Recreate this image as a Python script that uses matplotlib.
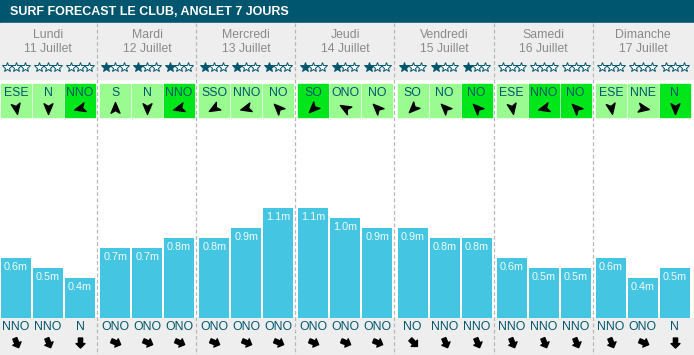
import numpy as np
import matplotlib
matplotlib.use("Agg")
import matplotlib.pyplot as plt
from matplotlib.path import Path
from matplotlib.markers import MarkerStyle
from matplotlib.transforms import Affine2D
from matplotlib.patches import Rectangle

plt.rcParams['font.family'] = ['Liberation Sans', 'DejaVu Sans']

title = "SURF FORECAST LE CLUB, ANGLET 7 JOURS"
days = ['Lundi', 'Mardi', 'Mercredi', 'Jeudi', 'Vendredi', 'Samedi', 'Dimanche']
dates = ['11 Juillet', '12 Juillet', '13 Juillet', '14 Juillet',
         '15 Juillet', '16 Juillet', '17 Juillet']
stars = [0, 0, 0, 1, 1, 1, 1, 1, 1, 1, 1, 1, 1, 1, 1, 0, 0, 0, 0, 0, 0]
wind_dir = ['ESE', 'N', 'NNO', 'S', 'N', 'NNO', 'SSO', 'NNO', 'NO',
            'SO', 'ONO', 'NO', 'SO', 'NO', 'NO', 'ESE', 'NNO', 'NO',
            'ESE', 'NNE', 'N']
wind_strong = [0, 0, 1, 0, 0, 1, 0, 0, 0, 1, 0, 0, 0, 0, 1, 0, 1, 1, 0, 0, 1]
heights = [0.6, 0.5, 0.4, 0.7, 0.7, 0.8, 0.8, 0.9, 1.1, 1.1, 1.0, 0.9,
           0.9, 0.8, 0.8, 0.6, 0.5, 0.5, 0.6, 0.4, 0.5]
swell_dir = ['NNO', 'NNO', 'N', 'ONO', 'ONO', 'ONO', 'ONO', 'ONO', 'ONO',
             'ONO', 'ONO', 'ONO', 'NO', 'NNO', 'NNO', 'NNO', 'NNO', 'NNO',
             'NNO', 'ONO', 'N']

# arrow tip direction as drawn on the site (deg clockwise from up)
wind_tip = {'ESE': 170, 'N': 180, 'NNO': 255, 'S': 0, 'SSO': 240,
            'NO': 315, 'SO': 225, 'ONO': 300, 'NNE': 100}
compass = {'N': 0, 'NNE': 22.5, 'NE': 45, 'ENE': 67.5, 'E': 90, 'ESE': 112.5,
           'SE': 135, 'SSE': 157.5, 'S': 180, 'SSO': 202.5, 'SO': 225,
           'OSO': 247.5, 'O': 270, 'ONO': 292.5, 'NO': 315, 'NNO': 337.5}

W, H = 694, 355
teal = '#00566e'
light_green = '#9afb90'
strong_green = '#00e61a'
bar_color = '#44c5e1'

day_w = W / 7
idx = np.arange(21)
day_i = idx // 3
slot_j = idx % 3
xc = 16 + day_w * day_i + 32 * slot_j
bar_w = 30

nav = Path([(0, 1), (0.75, -0.8), (0, -0.35), (-0.75, -0.8), (0, 1)],
           [Path.MOVETO, Path.LINETO, Path.LINETO, Path.LINETO, Path.CLOSEPOLY])
block = Path([(0, 1), (0.8, 0.2), (0.38, 0.2), (0.38, -0.8), (-0.38, -0.8),
              (-0.38, 0.2), (-0.8, 0.2), (0, 1)],
             [Path.MOVETO] + [Path.LINETO] * 6 + [Path.CLOSEPOLY])


def rotated(path, deg):
    return MarkerStyle(path, transform=Affine2D().rotate_deg(-deg))


fig = plt.figure(figsize=(W / 100, H / 100), dpi=100)
ax = fig.add_axes([0, 0, 1, 1])
ax.set_xlim(0, W)
ax.set_ylim(H, 0)
ax.axis('off')

# backgrounds
ax.add_patch(Rectangle((0, 0), W, 23, color=teal, zorder=1))
ax.add_patch(Rectangle((0, 23), W, 56, color='#eeeeee', zorder=1))
ax.add_patch(Rectangle((0, 318), W, H - 318, color='#eeeeee', zorder=1))
ax.text(10, 12, title, color='white', fontsize=9, fontweight='bold',
        va='center', ha='left', zorder=3)

# day headers
for d in range(7):
    cx = day_w * d + 48
    ax.text(cx, 35, days[d], color='#8a8a8a', fontsize=8.8, ha='center', va='center', zorder=3)
    ax.text(cx, 48.5, dates[d], color='#8a8a8a', fontsize=8.8, ha='center', va='center', zorder=3)

# stars
for i in idx:
    for k in range(3):
        filled = (k == 0 and stars[i] == 1)
        ax.plot(xc[i] - 8.8 + 8.8 * k, 67, marker='*', markersize=7.5,
                markerfacecolor=teal if filled else 'white',
                markeredgecolor=teal, markeredgewidth=0.7, zorder=3)

# wind boxes
for i in idx:
    fc = strong_green if wind_strong[i] else light_green
    ax.add_patch(Rectangle((xc[i] - bar_w / 2, 84), bar_w, 33, color=fc, zorder=2))
    ax.text(xc[i], 92.5, wind_dir[i], color=teal, fontsize=8.8,
            ha='center', va='center', zorder=3)
    ax.plot(xc[i], 107.5, marker=rotated(nav, wind_tip[wind_dir[i]]),
            markersize=8.5, color='black', zorder=3)

# swell direction row
for i in idx:
    ax.text(xc[i], 327, swell_dir[i], color=teal, fontsize=8.8,
            ha='center', va='center', zorder=3)
    ax.plot(xc[i], 341.5, marker=rotated(block, compass[swell_dir[i]] + 180),
            markersize=8, color='black', zorder=3)

# day separators
for d in range(1, 7):
    ax.plot([97 + day_w * (d - 1), 97 + day_w * (d - 1)], [23, H], color='#b8b8b8',
            lw=0.9, ls=(0, (3, 2)), zorder=4)

# wave height bars
bx = fig.add_axes([0, (H - 318) / H, 1, (318 - 23) / H])
bx.patch.set_alpha(0)
bx.set_xlim(0, W)
bx.set_ylim(0, 2.95)
bx.axis('off')
bx.bar(xc, heights, width=bar_w, color=bar_color, zorder=2)
for i in idx:
    bx.text(xc[i], heights[i] - 0.095, f"{heights[i]:.1f}m", color='#f4fbfd',
            fontsize=7.8, ha='center', va='center', zorder=3)

fig.savefig('out.png', dpi=100)
